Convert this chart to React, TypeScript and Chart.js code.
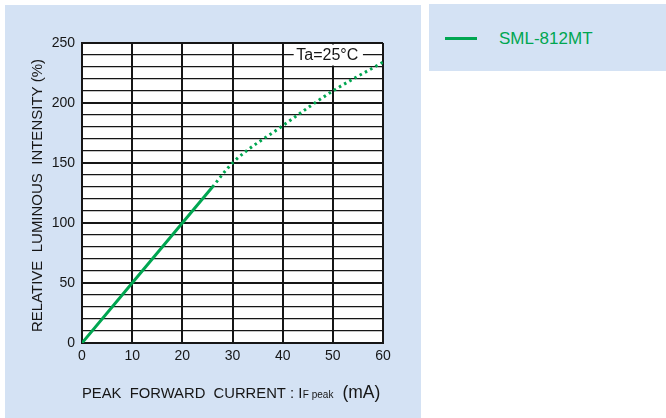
import React, { useEffect, useRef } from "react";
import { Chart, registerables } from "chart.js";

Chart.register(...registerables);

const seriesName = "SML-812MT";
const solidCurrent = [0, 10, 20, 26];
const solidIntensity = [0, 50, 100, 130];
const dottedCurrent = [26, 30, 40, 50, 60];
const dottedIntensity = [130, 150, 181, 210, 234];
const yLabelTicks = [0, 50, 100, 150, 200, 250];
const xTitleMain = "PEAK  FORWARD  CURRENT : I";
const xTitleSub = "F peak";
const xTitleUnit = "(mA)";
const yTitle = "RELATIVE  LUMINOUS  INTENSITY (%)";
const noteText = "Ta=25°C";

const GREEN = "#00a651";
const PANEL = "#d4e2f4";
const INK = "#161616";
const FONT = '"Liberation Sans", Arial, Helvetica, sans-serif';

const decor = {
  id: "decor",
  beforeDraw(chart: any) {
    const { ctx, chartArea: a } = chart;
    ctx.save();
    ctx.fillStyle = "#ffffff";
    ctx.fillRect(a.left, a.top, a.right - a.left, a.bottom - a.top);
    ctx.restore();
  },
  beforeDatasetsDraw(chart: any) {
    const { ctx } = chart;
    const xs = chart.scales.x;
    const ys = chart.scales.y;
    const x0 = xs.getPixelForValue(42.2);
    const x1 = xs.getPixelForValue(56);
    const y0 = ys.getPixelForValue(250) + 1.5;
    const y1 = ys.getPixelForValue(231.2);
    ctx.save();
    ctx.fillStyle = "#ffffff";
    ctx.fillRect(x0, y0, x1 - x0, y1 - y0);
    ctx.fillStyle = INK;
    ctx.font = `16px ${FONT}`;
    ctx.textAlign = "center";
    ctx.textBaseline = "middle";
    ctx.fillText(noteText, (x0 + x1) / 2 - 1, ys.getPixelForValue(240) + 0.5);
    ctx.restore();
  },
  afterDraw(chart: any) {
    const { ctx, chartArea: a } = chart;
    ctx.save();
    ctx.fillStyle = INK;
    ctx.translate(38, 195.5);
    ctx.rotate(-Math.PI / 2);
    ctx.font = `15px ${FONT}`;
    ctx.textAlign = "center";
    ctx.textBaseline = "middle";
    ctx.fillText(yTitle, 0, 0);
    ctx.restore();

    ctx.save();
    ctx.fillStyle = INK;
    ctx.textAlign = "left";
    ctx.textBaseline = "alphabetic";
    const base = 398;
    let x = a.left;
    ctx.font = `14.8px ${FONT}`;
    ctx.fillText(xTitleMain, x, base);
    x += ctx.measureText(xTitleMain).width + 0.5;
    ctx.font = `10px ${FONT}`;
    ctx.fillText(xTitleSub, x, base);
    x += ctx.measureText(xTitleSub).width + 9;
    ctx.font = `17.5px ${FONT}`;
    ctx.fillText(xTitleUnit, x, base);
    ctx.restore();
  },
};

export default function App() {
  const ref = useRef<HTMLCanvasElement | null>(null);

  useEffect(() => {
    if (!ref.current) return;
    const chart = new Chart(ref.current, {
      type: "line",
      data: {
        datasets: [
          {
            label: seriesName,
            data: solidCurrent.map((c, i) => ({ x: c, y: solidIntensity[i] })),
            borderColor: GREEN,
            borderWidth: 3,
            pointRadius: 0,
            tension: 0,
            fill: false,
          },
          {
            label: seriesName + " (extrapolated)",
            data: dottedCurrent.map((c, i) => ({ x: c, y: dottedIntensity[i] })),
            borderColor: GREEN,
            borderWidth: 3,
            borderDash: [2.5, 3.5],
            borderCapStyle: "butt",
            pointRadius: 0,
            cubicInterpolationMode: "monotone",
            fill: false,
          },
        ],
      },
      options: {
        responsive: false,
        animation: false,
        devicePixelRatio: 1,
        layout: { padding: { top: 43, right: 38, left: 0, bottom: 0 } },
        plugins: {
          legend: { display: false },
          tooltip: { enabled: false },
          title: { display: false },
        },
        scales: {
          x: {
            type: "linear",
            min: 0,
            max: 60,
            afterFit: (s: any) => {
              s.height = 75;
            },
            ticks: {
              stepSize: 10,
              padding: 5,
              color: INK,
              font: { family: FONT, size: 14 },
              maxRotation: 0,
            },
            grid: {
              color: INK,
              lineWidth: 2,
              drawTicks: false,
            },
            border: { display: true, color: INK, width: 2 },
          },
          y: {
            type: "linear",
            min: 0,
            max: 250,
            afterFit: (s: any) => {
              s.width = 82;
            },
            ticks: {
              stepSize: 10,
              autoSkip: false,
              padding: 7,
              color: INK,
              font: { family: FONT, size: 14 },
              callback: (v: any) => (yLabelTicks.includes(Number(v)) ? String(v) : ""),
            },
            grid: {
              color: INK,
              lineWidth: (c: any) => (c.tick && c.tick.value % 50 === 0 ? 2 : 1.2),
              drawTicks: false,
            },
            border: { display: true, color: INK, width: 2 },
          },
        },
      },
      plugins: [decor],
    } as any);
    return () => chart.destroy();
  }, []);

  return (
    <div style={{ position: "absolute", left: 0, top: 0, width: 666, height: 418, background: "#ffffff", overflow: "hidden" }}>
      <div style={{ position: "absolute", left: 5, top: 5, width: 416, height: 413, background: PANEL }} />
      <canvas ref={ref} width={421} height={418} style={{ position: "absolute", left: 0, top: 0, width: 421, height: 418 }} />
      <div style={{ position: "absolute", left: 429, top: 4, width: 237, height: 67, background: PANEL }}>
        <div style={{ position: "absolute", left: 16, top: 32.5, width: 32, height: 3, background: GREEN }} />
        <div
          style={{
            position: "absolute",
            left: 70,
            top: 23,
            height: 24,
            lineHeight: "24px",
            fontFamily: FONT,
            fontSize: 17,
            color: GREEN,
            whiteSpace: "nowrap",
          }}
        >
          {seriesName}
        </div>
      </div>
    </div>
  );
}
